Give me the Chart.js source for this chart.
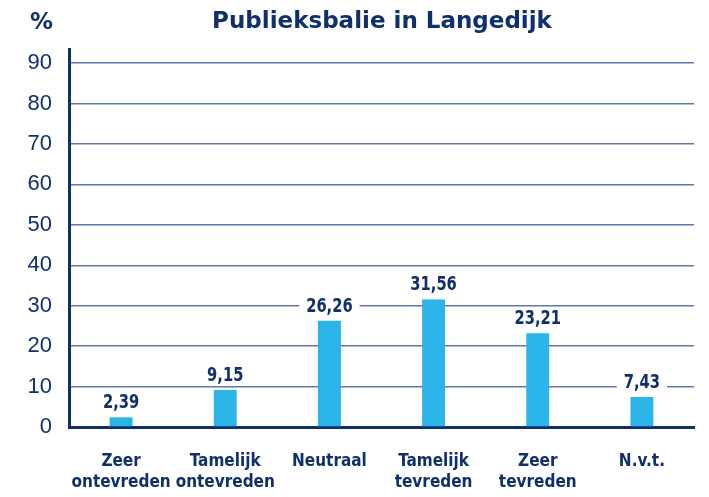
<!DOCTYPE html>
<html>
<head>
<meta charset="utf-8">
<script src="https://cdn.jsdelivr.net/npm/chart.js@4"></script>
<style>
  html, body { margin: 0; padding: 0; background: #fff; }
  #wrap { width: 709px; height: 497px; }
</style>
</head>
<body>
<div id="wrap"><canvas id="chart" width="709" height="497"></canvas></div>
<script>
const NAVY = '#10306c';
const BAR = '#2ab4e8';
const GRID = '#6276ad';
const COND = '"DejaVu Sans Condensed", "Liberation Sans Narrow", Roboto, sans-serif';

const TITLE = 'Publieksbalie in Langedijk';
const UNIT = '%';
const categories = [
  ['Zeer', 'ontevreden'],
  ['Tamelijk', 'ontevreden'],
  ['Neutraal'],
  ['Tamelijk', 'tevreden'],
  ['Zeer', 'tevreden'],
  ['N.v.t.'],
];
const values = [2.39, 9.15, 26.26, 31.56, 23.21, 7.43];
const yTicks = [0, 10, 20, 30, 40, 50, 60, 70, 80, 90];

function formatNum(n) {
  return n.toFixed(2).replace('.', ',');
}

// title, % sign and value labels with white backing
const decorations = {
  id: 'decorations',
  afterDatasetsDraw(chart) {
    const ctx = chart.ctx;
    ctx.save();
    ctx.fillStyle = NAVY;
    ctx.textBaseline = 'middle';
    ctx.textAlign = 'center';
    ctx.font = 'bold 23px "DejaVu Sans"';
    const tw = ctx.measureText(TITLE).width;
    ctx.letterSpacing = Math.max(0, (333 - tw) / TITLE.length).toFixed(2) + 'px';
    ctx.fillText(TITLE, 382, 22);
    ctx.letterSpacing = '0px';
    ctx.textAlign = 'right';
    ctx.fillText(UNIT, 53, 23);

    ctx.font = 'bold 19px ' + COND;
    ctx.textAlign = 'center';
    const sx = 0.86;
    chart.getDatasetMeta(0).data.forEach((bar, i) => {
      const txt = formatNum(values[i]);
      const w = ctx.measureText(txt).width * sx;
      const cy = bar.y - 15;
      ctx.fillStyle = '#fff';
      ctx.fillRect(bar.x - w / 2 - 7, cy - 11, w + 14, 22);
      ctx.fillStyle = NAVY;
      ctx.save();
      ctx.translate(bar.x, cy + 1);
      ctx.scale(sx, 1);
      ctx.fillText(txt, 0, 0);
      ctx.restore();
    });
    ctx.restore();
  },
};

new Chart(document.getElementById('chart'), {
  type: 'bar',
  data: {
    labels: categories,
    datasets: [{
      data: values,
      backgroundColor: BAR,
      borderWidth: 0,
      barPercentage: 0.22,
      categoryPercentage: 1,
    }],
  },
  options: {
    responsive: false,
    animation: false,
    layout: { padding: { top: 49, left: 0, right: 15, bottom: 0 } },
    plugins: {
      legend: { display: false },
      tooltip: { enabled: false },
      title: { display: false },
    },
    scales: {
      x: {
        afterFit(scale) { scale.height = 70; },
        grid: { display: false, drawTicks: false },
        border: { color: NAVY, width: 3 },
        ticks: {
          color: NAVY,
          padding: 25,
          maxRotation: 0,
          autoSkip: false,
          font: { family: COND, size: 17, weight: 'bold', lineHeight: 1.18 },
        },
      },
      y: {
        min: 0,
        max: 93.5,
        afterBuildTicks(scale) {
          scale.ticks = yTicks.map(v => ({ value: v }));
        },
        afterFit(scale) { scale.width = 69; },
        grid: { color: GRID, lineWidth: 1.5, drawTicks: false },
        border: { color: NAVY, width: 3 },
        ticks: {
          color: NAVY,
          padding: 17,
          font: { family: '"Liberation Sans"', size: 22 },
        },
      },
    },
  },
  plugins: [decorations],
});
</script>
</body>
</html>
